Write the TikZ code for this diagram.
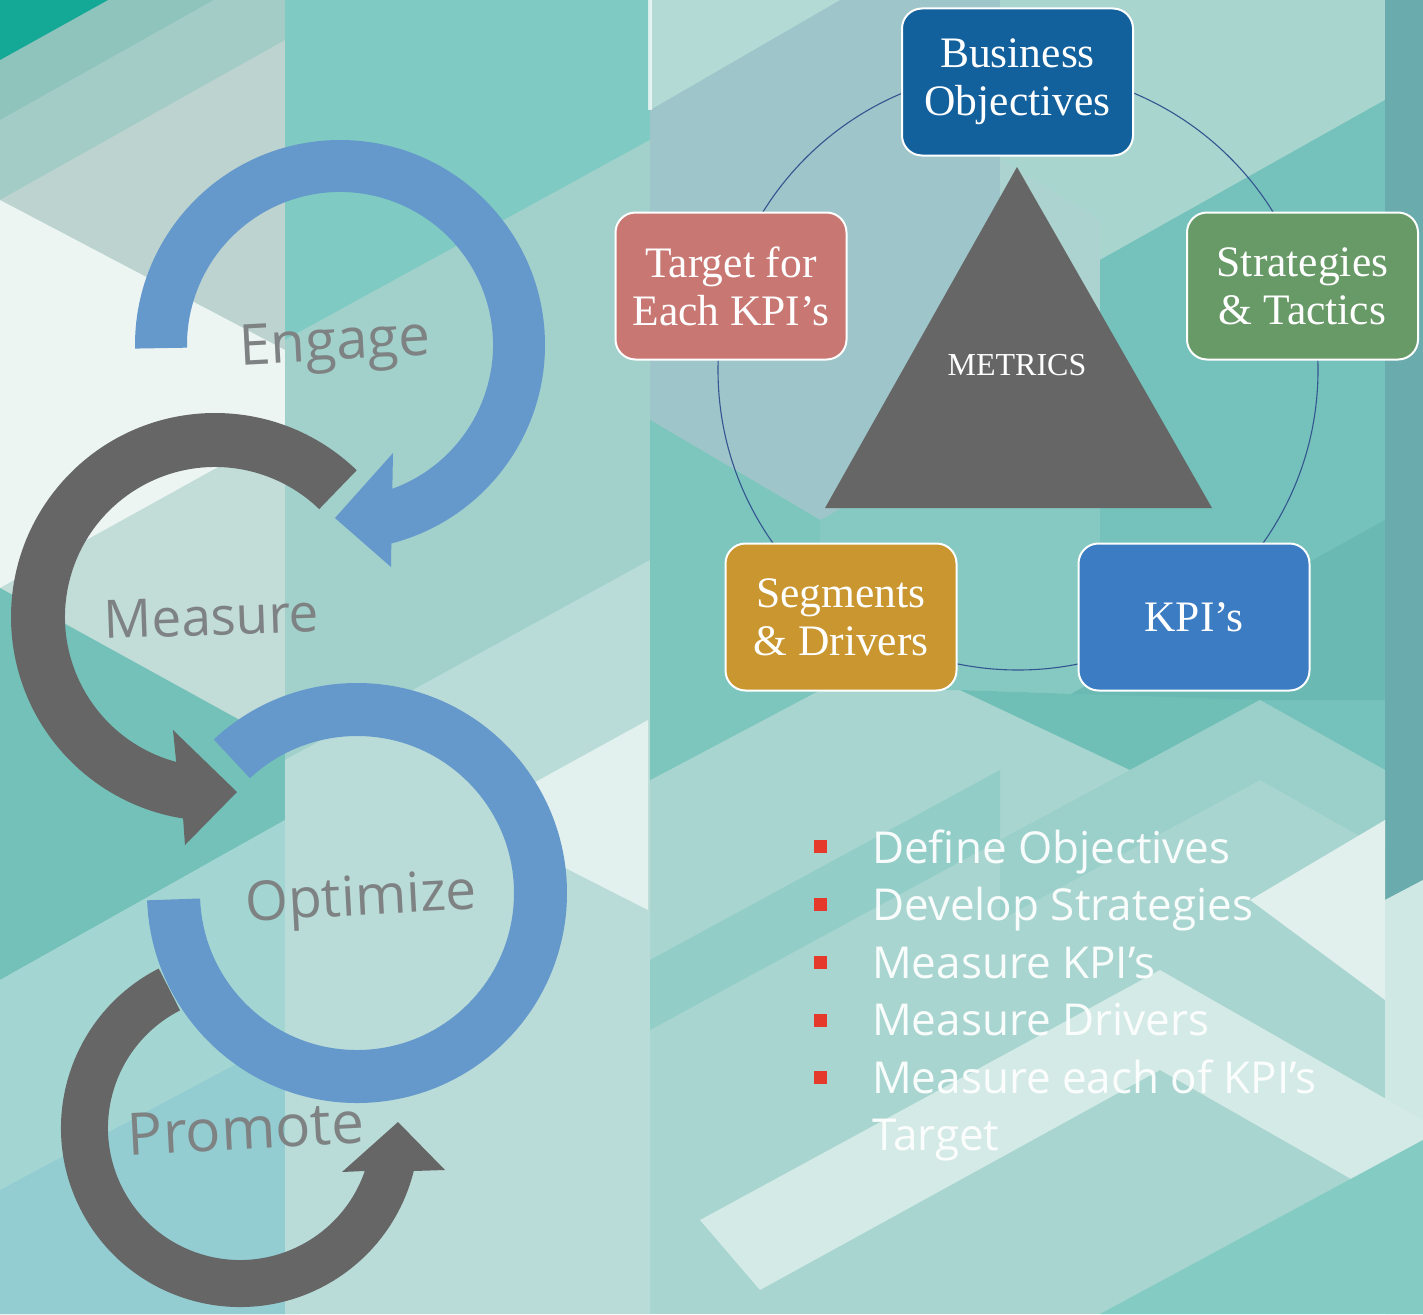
\documentclass[tikz,border=0pt]{standalone}
\usepackage{fontspec}
\setmainfont{Liberation Serif}
\newfontfamily\osans{Open Sans}
\definecolor{bluearrow}{HTML}{6598CB}
\definecolor{grayarrow}{HTML}{666666}
\definecolor{labelgray}{HTML}{7F8283}
\definecolor{bizc}{HTML}{12609C}
\definecolor{targetc}{HTML}{C97772}
\definecolor{stratc}{HTML}{679A66}
\definecolor{segc}{HTML}{C9962F}
\definecolor{kpic}{HTML}{3B7CC3}
\definecolor{ringc}{HTML}{34558F}
\definecolor{bulletc}{HTML}{E53A2B}
\newcommand{\bgpoly}[2]{\definecolor{tmpc}{HTML}{#1}\fill[tmpc] #2;}
\begin{document}
\begin{tikzpicture}[x=1pt,y=1pt,
  box/.style={rounded corners=20pt, draw=white, line width=2pt, minimum width=231pt,
    minimum height=147pt, text=white, align=center, inner sep=0pt,
    font=\fontsize{43.5}{48}\selectfont},
  arrowlabel/.style={text=labelgray, anchor=base, inner sep=0pt, font=\osans\fontsize{54}{60}\selectfont},
  listitem/.style={text=white, text opacity=0.93, anchor=base west, inner sep=0pt, font=\osans\fontsize{44}{50}\selectfont},
  bulletsq/.style={fill=bulletc, minimum size=13pt, inner sep=0pt}]
\useasboundingbox (0,0) rectangle (1423,-1314);
\begin{scope}
\clip (0,0) rectangle (1423,-1314);
\begin{scope}[yscale=-1]
\bgpoly{A8D5D0}{(0,0) rectangle (1423,1314)}
% left column
\bgpoly{8EC4BC}{(0,0) -- (285,0) -- (285,190) -- (0,200) -- cycle}
\bgpoly{A3CCC6}{(0,120) -- (285,-40) -- (285,60) -- (0,215) -- cycle}
\bgpoly{14A897}{(0,0) -- (108,0) -- (0,60) -- cycle}
\bgpoly{BCD3D0}{(0,200) -- (285,40) -- (285,350) -- cycle}
\bgpoly{EDF5F3}{(0,200) -- (285,350) -- (285,430) -- (0,590) -- cycle}
\bgpoly{C2DCD8}{(0,588) -- (285,430) -- (285,745) -- cycle}
\bgpoly{74C1B9}{(0,588) -- (285,745) -- (285,820) -- (0,980) -- cycle}
\bgpoly{A3D6D2}{(0,980) -- (285,820) -- (285,1314) -- (0,1314) -- cycle}
\bgpoly{93CDD2}{(0,1190) -- (300,1030) -- (300,1314) -- (0,1314) -- cycle}
% middle column
\bgpoly{7FCBC3}{(285,0) -- (650,0) -- (650,140) -- (285,340) -- cycle}
\bgpoly{A2D0CB}{(285,340) -- (650,140) -- (650,560) -- (285,760) -- cycle}
\bgpoly{B9DCD8}{(285,760) -- (650,560) -- (650,1314) -- (285,1314) -- cycle}
\bgpoly{E2F0EE}{(530,785) -- (648,720) -- (648,910) -- (530,850) -- cycle}
% right region
\bgpoly{86C9C2}{(650,0) -- (1385,0) -- (1385,770) -- (1260,700) -- (960,690) -- (820,690) -- (650,780) -- cycle}
\bgpoly{9EC5C9}{(650,110) -- (840,0) -- (1000,0) -- (1000,420) -- (820,520) -- (650,420) -- cycle}
\bgpoly{B4DAD6}{(650,0) -- (840,0) -- (650,110) -- cycle}
\bgpoly{A9D5CF}{(1000,0) -- (1385,0) -- (1385,100) -- (1100,260) -- (1000,200) -- cycle}
\bgpoly{ADD3D0}{(1000,160) -- (1100,220) -- (1100,420) -- (1000,420) -- cycle}
\bgpoly{7CC6BE}{(650,420) -- (820,520) -- (820,690) -- (650,780) -- cycle}
\bgpoly{74C2BB}{(1100,260) -- (1385,100) -- (1385,770) -- (1260,700) -- (1100,700) -- cycle}
\bgpoly{6AB9B2}{(1060,700) -- (1385,520) -- (1385,700) -- cycle}
\bgpoly{70BFB7}{(960,690) -- (1260,700) -- (1130,770) -- cycle}
\bgpoly{6AABAD}{(1385,0) -- (1423,0) -- (1423,880) -- (1385,900) -- cycle}
\bgpoly{CFE8E4}{(1385,900) -- (1423,880) -- (1423,1314) -- (1385,1314) -- cycle}
\bgpoly{93CDC7}{(650,960) -- (1000,770) -- (1000,840) -- (650,1030) -- cycle}
\bgpoly{9ACFCA}{(1000,840) -- (1260,700) -- (1385,770) -- (1385,850) -- (1260,780) -- (1000,920) -- cycle}
\bgpoly{D4EAE6}{(700,1220) -- (1160,970) -- (1423,1120) -- (1423,1220) -- (1160,1070) -- (760,1290) -- cycle}
\bgpoly{E1F0ED}{(1250,900) -- (1385,820) -- (1385,1000) -- cycle}
\bgpoly{84CBC4}{(1100,1314) -- (1423,1140) -- (1423,1314) -- cycle}
\fill[white, opacity=0.7] (648,0) rectangle (652,110);
\end{scope}
\end{scope}
% ---------- left cycle arrows ----------
\fill[bluearrow] ([shift={(181:205)}]340,-345) arc[start angle=181, end angle=-75.5, radius=205]
  -- (391,-567) -- (335,-518) -- (393,-453) -- ([shift={(-70:153)}]340,-345)
  arc[start angle=-70, end angle=181, radius=153] -- cycle;
\fill[grayarrow] ([shift={(46:204)}]215,-617) arc[start angle=46, end angle=261, radius=204]
  -- (185,-845) -- (237,-792) -- (173,-730) -- ([shift={(255:150)}]215,-617)
  arc[start angle=255, end angle=46, radius=150] -- cycle;
\fill[bluearrow] ([shift={(133:210)}]357,-893) arc[start angle=133, end angle=-178, radius=210]
  -- ([shift={(-178:157)}]357,-893) arc[start angle=-178, end angle=133, radius=157] -- cycle;
\fill[grayarrow] ([shift={(117:179)}]240,-1128) arc[start angle=117, end angle=346.1, radius=179]
  -- (445,-1170) -- (398,-1122) -- (342,-1172) -- ([shift={(341:132)}]240,-1128)
  arc[start angle=341, end angle=117, radius=132] -- cycle;
\node[arrowlabel, rotate=3, font=\osans\fontsize{56.5}{60}\selectfont] (engage) at (336,-360) {Engage};
\node[arrowlabel, rotate=2, font=\osans\fontsize{53}{60}\selectfont] (measure) at (212,-635) {Measure};
\node[arrowlabel, rotate=3, font=\osans\fontsize{55}{60}\selectfont] (optimize) at (362,-915) {Optimize};
\node[arrowlabel, rotate=3, font=\osans\fontsize{58.5}{60}\selectfont] (promote) at (247,-1149) {Promote};
% ---------- metrics diagram ----------
\draw[ringc, line width=1.1pt] (1018,-370) circle[radius=300];
\fill[grayarrow] (1017,-167) -- (825,-508) -- (1212,-508) -- cycle;
\node[text=white, font=\fontsize{32}{36}\selectfont] (metrics) at (1017,-365) {METRICS};
\node[box, fill=bizc] (biz) at (1017.5,-82) {Business\\Objectives};
\node[box, fill=targetc] (target) at (731,-286) {Target for\\Each KPI’s};
\node[box, fill=stratc] (strat) at (1302.5,-286) {Strategies\\\& Tactics};
\node[box, fill=segc] (seg) at (841,-617) {Segments\\\& Drivers};
\node[box, fill=kpic] (kpi) at (1194,-617) {KPI’s};
% ---------- list ----------
\node[bulletsq] (b1) at (820,-846) {};
\node[bulletsq] (b2) at (820,-904) {};
\node[bulletsq] (b3) at (820,-962) {};
\node[bulletsq] (b4) at (820,-1020) {};
\node[bulletsq] (b5) at (820,-1077) {};
\node[listitem] (l1) at (872,-863) {Define Objectives};
\node[listitem] (l2) at (872,-920) {Develop Strategies};
\node[listitem] (l3) at (872,-978) {Measure KPI’s};
\node[listitem] (l4) at (872,-1035) {Measure Drivers};
\node[listitem] (l5) at (872,-1093) {Measure each of KPI’s};
\node[listitem] (l6) at (872,-1150) {Target};
\end{tikzpicture}
\end{document}
